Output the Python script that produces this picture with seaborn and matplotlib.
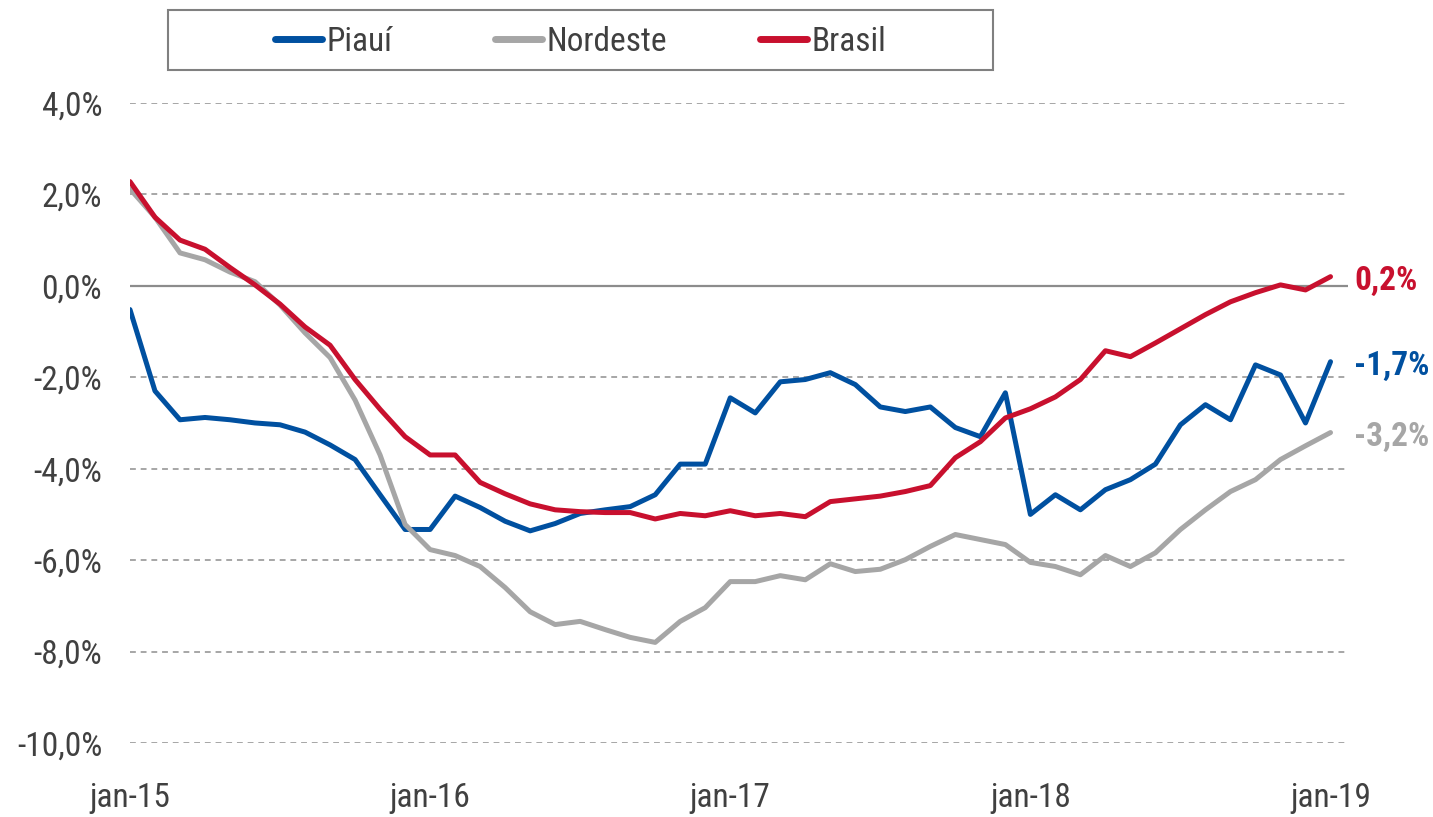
import pandas as pd
import matplotlib.pyplot as plt
import seaborn as sns
from matplotlib import font_manager
from matplotlib.patches import Rectangle

# --- Data (monthly, jan-15 .. jan-19) ---
MONTHS = pd.date_range('2015-01-01', '2019-01-01', freq='MS')
TICK_LABELS = ['jan-15', 'jan-16', 'jan-17', 'jan-18', 'jan-19']

piaui = [-0.52, -2.30, -2.93, -2.88, -2.93, -3.00, -3.04, -3.20, -3.48, -3.80,
         -4.57, -5.33, -5.33, -4.60, -4.85, -5.15, -5.36, -5.20, -4.98, -4.90,
         -4.83, -4.57, -3.90, -3.90, -2.45, -2.78, -2.10, -2.05, -1.90, -2.16,
         -2.65, -2.75, -2.65, -3.10, -3.30, -2.34, -5.00, -4.57, -4.90, -4.46,
         -4.24, -3.90, -3.04, -2.60, -2.93, -1.73, -1.95, -3.00, -1.66]
nordeste = [2.12, 1.50, 0.72, 0.57, 0.30, 0.09, -0.42, -1.03, -1.57, -2.50,
            -3.70, -5.22, -5.77, -5.90, -6.14, -6.60, -7.13, -7.41, -7.34, -7.52,
            -7.69, -7.80, -7.34, -7.04, -6.47, -6.47, -6.34, -6.43, -6.08, -6.25,
            -6.20, -5.99, -5.70, -5.44, -5.55, -5.66, -6.05, -6.14, -6.32, -5.90,
            -6.14, -5.84, -5.33, -4.90, -4.50, -4.24, -3.80, -3.50, -3.21]
brasil = [2.28, 1.50, 1.00, 0.80, 0.40, 0.02, -0.40, -0.90, -1.30, -2.05,
          -2.70, -3.30, -3.70, -3.70, -4.30, -4.55, -4.77, -4.90, -4.94, -4.96,
          -4.96, -5.10, -4.98, -5.03, -4.92, -5.03, -4.98, -5.05, -4.72, -4.66,
          -4.60, -4.50, -4.37, -3.76, -3.41, -2.89, -2.69, -2.43, -2.05, -1.42,
          -1.55, -1.25, -0.94, -0.63, -0.35, -0.15, 0.02, -0.09, 0.20]

SERIES = ['Piauí', 'Nordeste', 'Brasil']
COLORS = {'Piauí': '#0050A0', 'Nordeste': '#A6A6A6', 'Brasil': '#C8102E'}
END_LABELS = {'Piauí': '-1,7%', 'Nordeste': '-3,2%', 'Brasil': '0,2%'}

# --- Style ---
sns.set_theme(style="white")
names = {f.name for f in font_manager.fontManager.ttflist}
FS = 24
if 'Liberation Sans Narrow' in names:
    plt.rcParams['font.family'] = ['Liberation Sans Narrow', 'DejaVu Sans']
elif 'Roboto Condensed' in names:
    plt.rcParams['font.family'] = ['Roboto Condensed', 'DejaVu Sans']
else:
    plt.rcParams['font.family'] = ['DejaVu Sans']
    FS = 18
TEXT = '#404040'


def build_frame():
    idx = list(range(len(MONTHS)))
    parts = []
    for name, vals in zip(SERIES, [piaui, nordeste, brasil]):
        parts.append(pd.DataFrame({'idx': idx, 'valor': vals, 'serie': name}))
    return pd.concat(parts, ignore_index=True)


def plot(df):
    fig = plt.figure(figsize=(14.33, 8.17), dpi=100)
    ax = fig.add_axes([0.0907, 0.0906, 0.850, 0.7834])

    sns.lineplot(ax=ax, data=df, x='idx', y='valor', hue='serie', hue_order=SERIES,
                 palette=COLORS, linewidth=3.6, legend=False, zorder=3,
                 solid_joinstyle='round', solid_capstyle='round')

    ax.set_xlim(0, 48.7)
    ax.set_ylim(-10, 4)
    yt = list(range(-10, 5, 2))
    ax.set_yticks(yt)
    ax.set_yticklabels([f"{v:.1f}%".replace('.', ',') for v in yt], fontsize=FS, color=TEXT)
    ax.set_xticks([0, 12, 24, 36, 48])
    ax.set_xticklabels(TICK_LABELS, fontsize=FS, color=TEXT)
    ax.tick_params(axis='y', length=0, pad=20)
    ax.tick_params(axis='x', length=0, pad=28)
    ax.set_xlabel('')
    ax.set_ylabel('')
    for s in ax.spines.values():
        s.set_visible(False)

    # gridlines: dashed, zero line solid
    for v in yt:
        if v == 0:
            ax.axhline(v, color='#8C8C8C', linewidth=1.6, zorder=1)
        else:
            ax.axhline(v, color='#A6A6A6', linewidth=1.4, linestyle=(0, (3, 2.5)), zorder=1)

    # end labels
    for name, vals in zip(SERIES, [piaui, nordeste, brasil]):
        ax.annotate(END_LABELS[name], xy=(48, vals[-1]), xytext=(17, -3),
                    textcoords='offset points', ha='left', va='center',
                    fontsize=FS, fontweight='bold', color=COLORS[name])

    # legend entries placed individually inside a drawn frame
    starts = {'Piauí': 275, 'Nordeste': 495, 'Brasil': 760}
    for n in SERIES:
        h = plt.Line2D([], [], color=COLORS[n], linewidth=5, solid_capstyle='round')
        fig.legend([h], [n], loc='center left',
                   bbox_to_anchor=(starts[n] / 1433, 1 - 42 / 817),
                   frameon=False, fontsize=FS, handlelength=1.4, handletextpad=0.15,
                   borderpad=0, borderaxespad=0, labelcolor=TEXT)
    fig.patches.append(Rectangle((168 / 1433, 1 - 70 / 817), 825 / 1433, 60 / 817,
                                 transform=fig.transFigure, fill=False,
                                 edgecolor='#808080', linewidth=1.5))

    plt.savefig('out.png', dpi=100)


if __name__ == "__main__":
    plot(build_frame())
